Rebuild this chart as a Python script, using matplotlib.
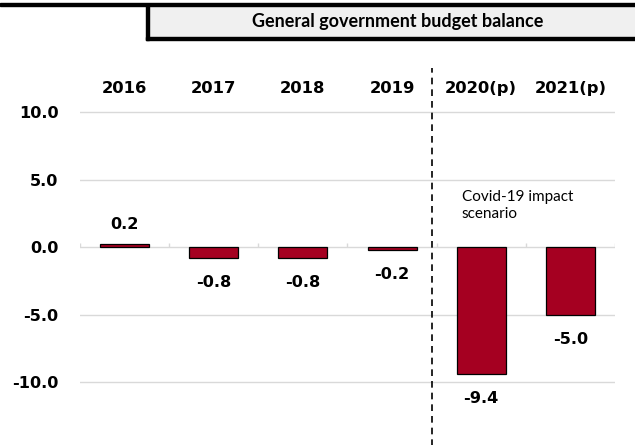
import matplotlib
matplotlib.use("Agg")
import matplotlib.pyplot as plt
from matplotlib.patches import Rectangle

plt.rcParams['font.family'] = ['DejaVu Sans']

years = ['2016', '2017', '2018', '2019', '2020(p)', '2021(p)']
balance = [0.2, -0.8, -0.8, -0.2, -9.4, -5.0]
yticks = [-10, -5, 0, 5, 10]
title = 'General government budget balance'
note = 'Covid-19 impact\nscenario'

bar_color = '#a50021'
grid_color = '#d9d9d9'
calibri_like = ['Lato', 'DejaVu Sans']

fig = plt.figure(figsize=(6.35, 4.45), dpi=100)
ax = fig.add_axes([80 / 635, 1 - 409 / 445, 535 / 635, 305 / 445])

x = list(range(len(years)))
ax.bar(x, balance, width=0.55, color=bar_color, edgecolor='black', linewidth=0.9, zorder=3)

ax.set_xlim(-0.5, len(years) - 0.5)
ax.set_ylim(-12, 10.6)

# gridlines and zero line
for t in yticks:
    ax.axhline(t, color=grid_color, linewidth=1, zorder=1)
ax.vlines([i - 0.5 for i in range(len(years) + 1)], 0, 0.3, color=grid_color, linewidth=1, zorder=1)

for s in ax.spines.values():
    s.set_visible(False)
ax.set_xticks([])
ax.set_yticks(yticks)
ax.set_yticklabels(['%.1f' % t for t in yticks], fontweight='bold', fontsize=11.6)
ax.tick_params(axis='y', length=0, pad=15.5)

# year labels on top
for i, yr in enumerate(years):
    ax.text(i, 11.75, yr, ha='center', va='center', fontsize=11.8, fontweight='bold', clip_on=False)

# value labels
for i, v in enumerate(balance):
    off = 14 if v > 0 else -18
    ax.annotate('%.1f' % v, (i, v), xytext=(0, off), textcoords='offset points',
                ha='center', va='center', fontsize=11.6, fontweight='bold')

# projection separator
ax.plot([3.447, 3.447], [-14.8, 13.26], color='black', linestyle=(0, (4, 3)),
        linewidth=1.2, clip_on=False, zorder=4)
ax.text(3.78, 4.2, note, ha='left', va='top', fontsize=11, linespacing=1.25,
        family=calibri_like)

# title box
fig.patches.append(Rectangle((0, 1 - 6 / 445), 1, 3 / 445, transform=fig.transFigure,
                             color='black', zorder=5))
fig.patches.append(Rectangle((149 / 635, 1 - 37 / 445), 486 / 635, 31 / 445,
                             transform=fig.transFigure, color='#f0f0f0', zorder=4))
fig.patches.append(Rectangle((146 / 635, 1 - 40 / 445), 3 / 635, 34 / 445,
                             transform=fig.transFigure, color='black', zorder=5))
fig.patches.append(Rectangle((146 / 635, 1 - 40 / 445), 489 / 635, 3 / 445,
                             transform=fig.transFigure, color='black', zorder=5))
fig.text(398 / 635, 1 - 22 / 445, title, ha='center', va='center', fontsize=13,
         fontweight='bold', family=calibri_like, zorder=6)

fig.savefig('out.png', dpi=100)
